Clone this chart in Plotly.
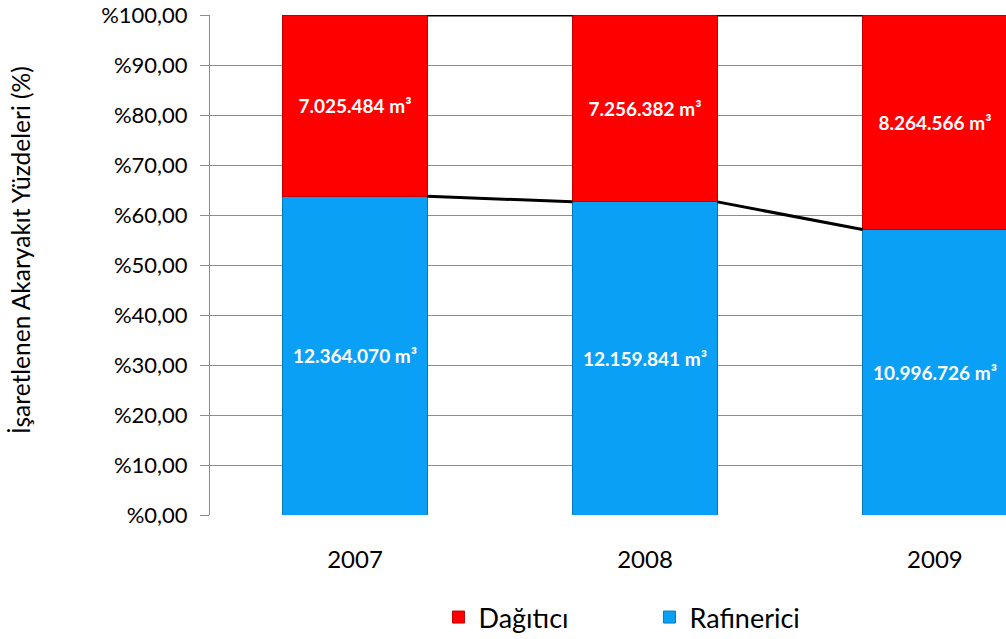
import plotly.graph_objects as go

years = ["2007", "2008", "2009"]
rafinerici = [12364070, 12159841, 10996726]
dagitici = [7025484, 7256382, 8264566]
ytick_vals = [0, 10, 20, 30, 40, 50, 60, 70, 80, 90, 100]
ytick_text = ["%0,00", "%10,00", "%20,00", "%30,00", "%40,00", "%50,00",
              "%60,00", "%70,00", "%80,00", "%90,00", "%100,00"]

def fmt(v):
    return "{:,}".format(v).replace(",", ".") + " m³"

totals = [a + b for a, b in zip(rafinerici, dagitici)]
raf_pct = [a / t * 100 for a, t in zip(rafinerici, totals)]
dag_pct = [b / t * 100 for b, t in zip(dagitici, totals)]
xs = list(range(len(years)))

FONT = "Lato, 'Open Sans', sans-serif"
BAR_W = 0.5

fig = go.Figure()
fig.add_trace(go.Bar(
    x=xs, y=raf_pct, name="Rafinerici", width=BAR_W,
    marker=dict(color="#0AA0F5", line=dict(color="#0878B8", width=1)),
    text=[fmt(v) for v in rafinerici], textposition="inside",
    insidetextanchor="middle",
    textfont=dict(color="white", size=19, family=FONT, weight="bold"),
))
fig.add_trace(go.Bar(
    x=xs, y=dag_pct, name="Dağıtıcı", width=BAR_W,
    marker=dict(color="#FF0000", line=dict(color="#C00000", width=1)),
    text=[fmt(v) for v in dagitici], textposition="inside",
    insidetextanchor="middle",
    textfont=dict(color="white", size=19, family=FONT, weight="bold"),
))

# series lines connecting bar edges
lx, ly_top, ly_mid = [], [], []
for i in range(len(xs) - 1):
    lx += [xs[i] + BAR_W / 2, xs[i + 1] - BAR_W / 2, None]
    ly_mid += [raf_pct[i], raf_pct[i + 1], None]
    ly_top += [raf_pct[i] + dag_pct[i], raf_pct[i + 1] + dag_pct[i + 1], None]
for ly in (ly_mid, ly_top):
    fig.add_trace(go.Scatter(x=lx, y=ly, mode="lines", showlegend=False,
                             line=dict(color="black", width=3), hoverinfo="skip"))

fig.update_layout(
    barmode="stack",
    width=1006, height=639,
    margin=dict(l=210, r=0, t=15, b=124, autoexpand=False),
    paper_bgcolor="white", plot_bgcolor="white",
    font=dict(family=FONT, color="black"),
    legend=dict(orientation="h", traceorder="reversed", x=0.287, xanchor="left",
                y=-0.205, yanchor="middle", font=dict(size=27, family=FONT),
                entrywidth=166, entrywidthmode="pixels"),
    showlegend=True,
)
fig.update_xaxes(range=[-0.5, 2.245], tickvals=xs, ticktext=years,
                 showgrid=False, showline=False, zeroline=False,
                 tickfont=dict(size=24, family=FONT), ticks="",
                 ticklabelstandoff=28, automargin=False)
fig.update_yaxes(range=[0, 100], tickvals=ytick_vals, ticktext=ytick_text,
                 showgrid=True, gridcolor="#8C8C8C", gridwidth=1,
                 showline=True, linecolor="#8C8C8C", linewidth=1,
                 ticks="outside", ticklen=9, tickcolor="#8C8C8C",
                 zeroline=False, tickfont=dict(size=22, family=FONT),
                 ticklabelstandoff=8, automargin=False)
fig.add_annotation(text="İşaretlenen Akaryakıt Yüzdeleri (%)", textangle=-90,
                   xref="paper", yref="paper", x=(20 - 210) / 796, y=(515 - 250) / 500,
                   xanchor="center", yanchor="middle", showarrow=False,
                   font=dict(size=24.5, family=FONT))

fig.write_html("out.html", config={"displayModeBar": False},
               post_script="document.body.style.margin='0';")
